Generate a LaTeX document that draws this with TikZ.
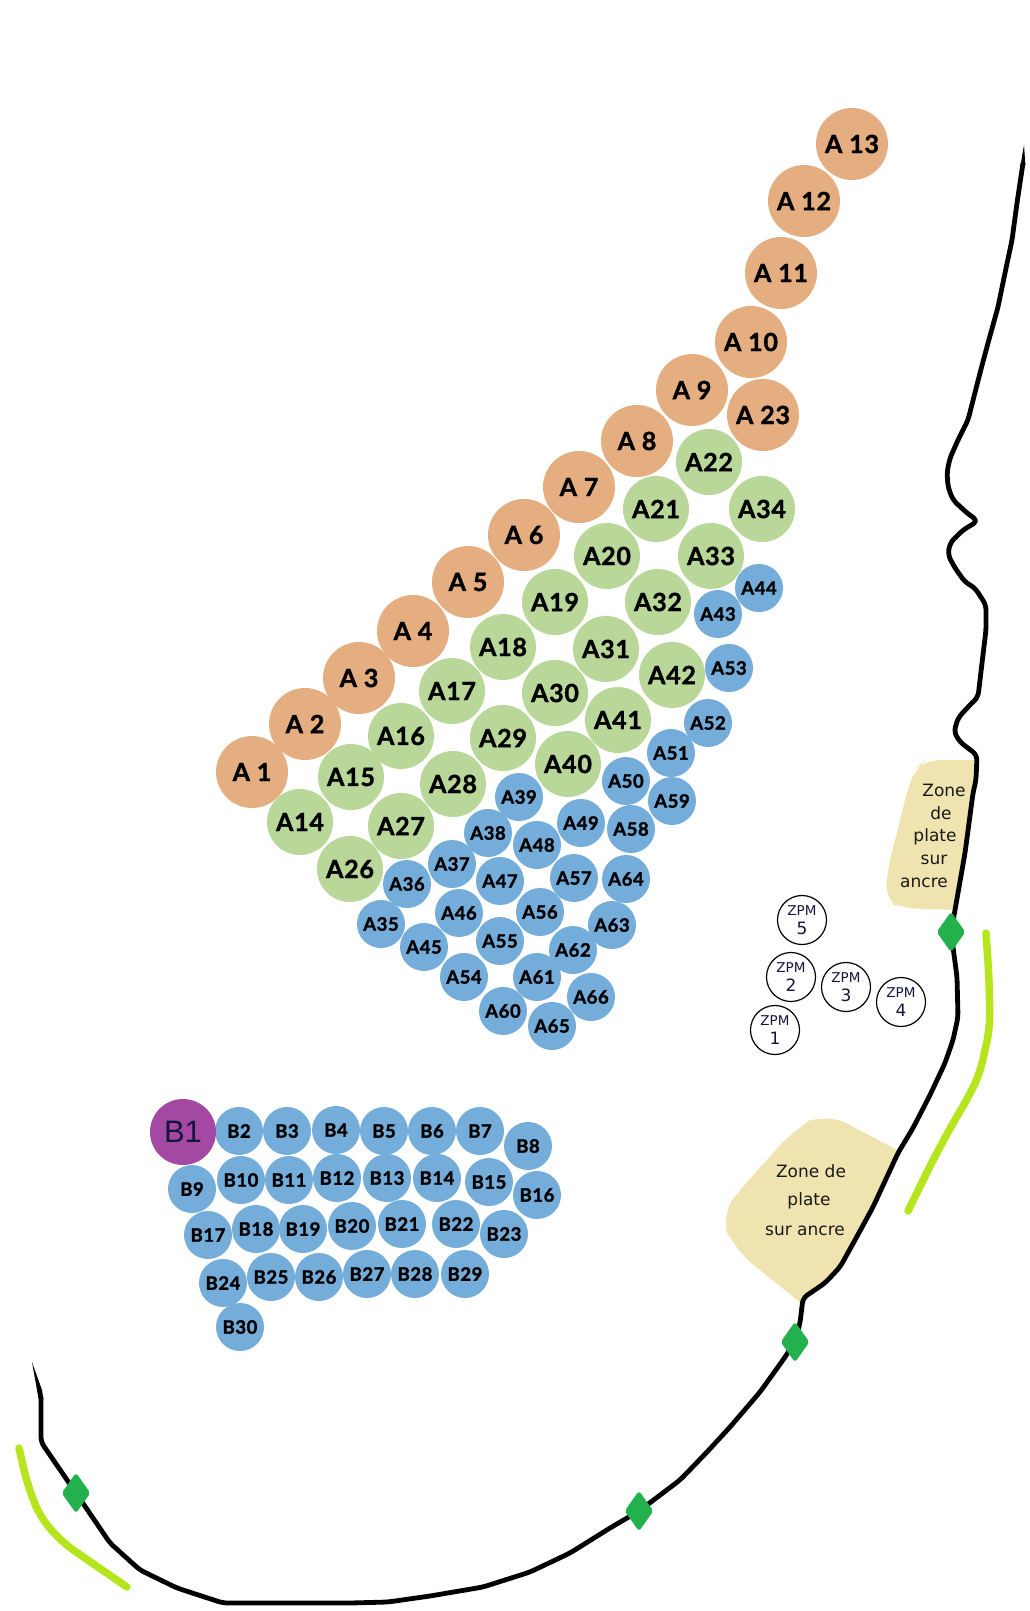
\documentclass[tikz,border=0pt]{standalone}
\usepackage{fontspec}
\setmainfont{DejaVu Sans}
\newfontfamily\pinfont{Lato}[LetterSpace=3, BoldFeatures={FakeBold=1.5}]
\newfontfamily\arialfont{Liberation Sans}
\usetikzlibrary{shapes.geometric}
\definecolor{pinorange}{RGB}{229,174,128}
\definecolor{pingreen}{RGB}{184,215,152}
\definecolor{pinblue}{RGB}{116,172,218}
\definecolor{pinpurple}{RGB}{163,73,164}
\definecolor{zonesand}{RGB}{239,228,176}
\definecolor{markgreen}{RGB}{34,177,76}
\definecolor{limeline}{RGB}{181,230,29}
\definecolor{inkblue}{RGB}{20,20,60}
\tikzset{
  pinbig/.style={circle, inner sep=0pt, minimum size=72pt, fill=pinorange,
                 font=\pinfont\bfseries\fontsize{25}{25}\selectfont},
  pinmid/.style={circle, inner sep=0pt, minimum size=66pt, fill=pingreen,
                 font=\pinfont\bfseries\fontsize{25}{25}\selectfont},
  pinsmall/.style={circle, inner sep=0pt, minimum size=48pt, fill=pinblue,
                   font=\pinfont\bfseries\fontsize{18.5}{18.5}\selectfont},
  pinmain/.style={circle, inner sep=0pt, minimum size=66pt, fill=pinpurple, text=inkblue,
                  font=\arialfont\fontsize{31}{31}\selectfont},
  zpm/.style={circle, draw=black, line width=1.2pt, inner sep=0pt, minimum size=49pt,
              align=center, text=inkblue, font=\fontsize{17}{19}\selectfont},
  zonetxt/.style={font=\fontsize{17}{17}\selectfont, inner sep=0pt, text=black!90},
  zonefill/.style={fill=zonesand, draw=none},
  coast/.style={draw=black, line width=4.8pt, rounded corners=5pt, line join=round},
  coasttip/.style={fill=black, draw=none},
  limetrack/.style={draw=limeline, line width=7.5pt, line cap=round, line join=round, rounded corners=14pt},
  markgem/.style={diamond, fill=markgreen, draw=markgreen, line width=2pt, rounded corners=2pt,
                  inner sep=0pt, minimum width=27pt, minimum height=38pt},
}

\begin{document}
\begin{tikzpicture}[x=1pt, y=-1pt]

\useasboundingbox (0,0) rectangle (1030,1611);

% anchoring zones
\path[zonefill] (978,760) [rounded corners=16pt] -- (925,760) -- (917,767) -- (908,787) -- (897,833) -- (888,867)
  -- (885,900) -- (900,908) [sharp corners] -- (955,910) -- cycle;
\path[zonefill] (899,1151) [rounded corners=24pt] -- (825,1112) -- (797,1127) -- (760,1167) -- (719,1215)
  -- (735,1250) [sharp corners] -- (801,1303) -- (840,1267) -- cycle;

% shore
\draw[coast] (1023,163) -- (1017,203) -- (1012,240) -- (1005,273) -- (998,307) -- (988,343) -- (980,373)
  -- (968,420) -- (958,440) -- (950,458) -- (947,472) -- (948,487) -- (953,500) -- (967,513) -- (978,521)
  -- (963,530) -- (950,543) -- (948,555) -- (955,568) -- (965,582) -- (975,588) -- (986,605) -- (986,630)
  -- (982,663) -- (978,697) -- (968,707) -- (958,718) -- (954,732) -- (960,742) -- (977,755) -- (976,780)
  -- (973,793) -- (965,853) -- (955,910) -- (951,932) -- (957,977) -- (958,1017) -- (953,1040) -- (945,1063)
  -- (930,1095) -- (913,1128) -- (898,1153) -- (873,1207) -- (855,1240) -- (840,1267) -- (825,1283)
  -- (803,1298) -- (800,1323) -- (795,1342) -- (783,1360) -- (760,1392) -- (730,1427) -- (707,1452)
  -- (680,1480) -- (639,1511) -- (610,1528) -- (570,1553) -- (530,1572) -- (483,1587) -- (430,1596)
  -- (388,1602) -- (350,1603) -- (223,1603) -- (177,1588) -- (140,1570) -- (110,1543) -- (76,1493)
  -- (41,1442) -- (41,1397);
\path[coasttip] (1024,145) -- (1020.6,165) -- (1025.4,165) -- cycle;
\path[coasttip] (32,1362) -- (38.6,1399) -- (43.4,1399) -- (42,1390) -- cycle;

% lime tracks
\draw[limetrack] (986,933) -- (989,977) -- (990,1027) -- (980,1073) -- (968,1098) -- (953,1123)
  -- (933,1160) -- (908,1211);
\draw[limetrack] (19,1448) -- (27,1483) -- (40,1517) -- (63,1543) -- (127,1587);

% markers
\node[markgem] (mark1) at (951,932) {};
\node[markgem] (mark2) at (795,1342) {};
\node[markgem] (mark3) at (639,1511) {};
\node[markgem] (mark4) at (76,1493) {};

% row A, outer
\foreach \i/\x/\y in {1/252/772, 2/305/724, 3/359/678, 4/413/631, 5/468/582, 6/524/535, 7/579/487,
  8/637/441, 9/692/390, 10/751/342, 11/781/273, 12/804/201, 13/852/144, 23/763/415}{
  \node[pinbig] (a\i) at (\x,\y) {A \i};
}

% row A, middle
\foreach \i/\x/\y in {14/300/822, 15/351/777, 16/401/736, 17/452/691, 18/503/647, 19/555/602, 20/607/556,
  21/656/509, 22/709/462, 26/350/869, 27/401/826, 28/453/784, 29/503/738, 30/555/693, 31/606/649,
  32/658/602, 33/711/556, 34/762/509, 40/568/764, 41/618/720, 42/672/675}{
  \node[pinmid] (a\i) at (\x,\y) {A\i};
}

% row A, inner
\foreach \i/\x/\y in {35/381/924, 36/407/884, 37/452/864, 38/488/833, 39/519/797, 43/718/614, 44/759/588,
  45/424/947, 46/459/913, 47/500/881, 48/537/845, 49/581/823, 50/626/781, 51/671/753, 52/708/723,
  53/729/668, 54/464/977, 55/500/941, 56/540/912, 57/574/878, 58/631/829, 59/672/801, 60/503/1011,
  61/537/977, 62/573/950, 63/612/925, 64/626/879, 65/552/1026, 66/591/997}{
  \node[pinsmall] (a\i) at (\x,\y) {A\i};
}

% row B
\foreach \i/\x/\y in {2/239/1131, 3/287/1131, 4/336/1130, 5/384/1131, 6/432/1131, 7/480/1131, 8/528/1146,
  9/192/1189, 10/241/1180, 11/289/1180, 12/337/1178, 13/387/1178, 14/437/1178, 15/489/1182, 16/537/1195,
  17/208/1235, 18/256/1229, 19/303/1229, 20/352/1226, 21/402/1224, 22/456/1224, 23/504/1234,
  24/223/1283, 25/271/1277, 26/319/1277, 27/367/1274, 28/415/1274, 29/465/1274, 30/240/1327}{
  \node[pinsmall] (b\i) at (\x,\y) {B\i};
}
\node[pinmain] (b1) at (183,1132) {B1};

% ZPM
\foreach \i/\x/\y in {1/775/1030, 2/791/977, 3/846/987, 4/901/1002, 5/802/920}{
  \node[zpm] (zpm\i) at (\x,\y) {{\fontsize{13.5}{13.5}\selectfont ZPM}\\\i};
}

% zone labels
\node[zonetxt] (ztop1) at (944,790) {Zone};
\node[zonetxt] (ztop2) at (941,813) {de};
\node[zonetxt] (ztop3) at (935,837) {plate};
\node[zonetxt] (ztop4) at (934,860) {sur};
\node[zonetxt] (ztop5) at (924,883) {ancre};
\node[zonetxt] (zlow1) at (811,1171) {Zone de};
\node[zonetxt] (zlow2) at (809,1201) {plate};
\node[zonetxt] (zlow3) at (805,1231) {sur ancre};

\end{tikzpicture}
\end{document}
